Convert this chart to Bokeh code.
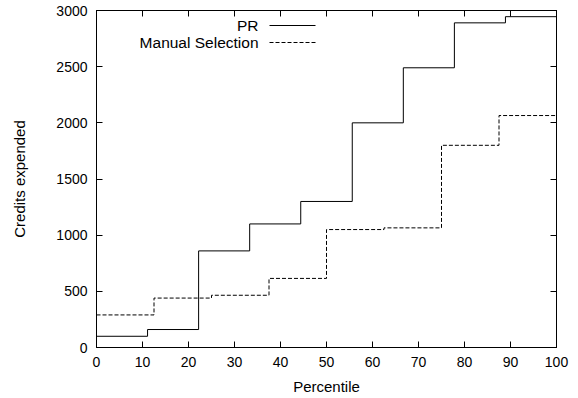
from bokeh.plotting import figure
from bokeh.models import (Range1d, FixedTicker, LinearAxis, Label, Arrow)
from bokeh.embed import file_html
from bokeh.resources import INLINE

# ---- data ----
pr_percentile = [0, 11.1, 22.2, 33.3, 44.4, 55.6, 66.7, 77.8, 88.9, 100]
pr_credits = [100, 160, 860, 1100, 1300, 2000, 2490, 2890, 2945, 2945]

manual_percentile = [0, 12.5, 25, 37.5, 50, 62.5, 75, 87.5, 100]
manual_credits = [290, 440, 465, 615, 1050, 1065, 1800, 2065, 2065]

x_ticks = [0, 10, 20, 30, 40, 50, 60, 70, 80, 90, 100]
y_ticks = [0, 500, 1000, 1500, 2000, 2500, 3000]

FONT = "Liberation Sans"
TICK_SIZE = "14px"
LABEL_SIZE = "15px"
LEGEND_SIZE = "15.5px"

p = figure(width=578, height=398, output_backend="svg", toolbar_location=None,
           x_range=Range1d(0, 100), y_range=Range1d(0, 3000),
           min_border_left=96, min_border_right=22, min_border_top=10,
           min_border_bottom=51)
p.background_fill_color = "white"
p.border_fill_color = "white"
p.outline_line_color = "black"
p.outline_line_width = 1
p.grid.visible = False

for ax in (p.xaxis[0], p.yaxis[0]):
    ax.major_tick_in = 6
    ax.major_tick_out = 0
    ax.minor_tick_in = 0
    ax.minor_tick_out = 0
    ax.axis_line_color = "black"
    ax.major_tick_line_color = "black"
    ax.major_label_text_font = FONT
    ax.major_label_text_font_size = TICK_SIZE
    ax.major_label_text_color = "black"
    ax.axis_label_text_font = FONT
    ax.axis_label_text_font_size = LABEL_SIZE
    ax.axis_label_text_font_style = "normal"
    ax.axis_label_text_color = "black"

p.xaxis[0].ticker = FixedTicker(ticks=x_ticks)
p.yaxis[0].ticker = FixedTicker(ticks=y_ticks)
p.xaxis[0].axis_label = "Percentile"
p.yaxis[0].axis_label = "Credits expended"
p.xaxis[0].major_label_standoff = 9
p.yaxis[0].major_label_standoff = 9
p.xaxis[0].axis_label_standoff = 8
p.yaxis[0].axis_label_standoff = 25

# mirrored ticks (top and right), no labels
top = LinearAxis(ticker=FixedTicker(ticks=x_ticks), major_tick_in=6, major_tick_out=0,
                 minor_tick_in=0, minor_tick_out=0,
                 major_label_overrides={t: "" for t in x_ticks},
                 axis_line_color="black", major_label_standoff=0)
right = LinearAxis(ticker=FixedTicker(ticks=y_ticks), major_tick_in=6, major_tick_out=0,
                   minor_tick_in=0, minor_tick_out=0,
                   major_label_overrides={t: "" for t in y_ticks},
                   axis_line_color="black", major_label_standoff=0)
p.add_layout(top, "above")
p.add_layout(right, "right")

p.step(pr_percentile, pr_credits, mode="after", line_color="black", line_width=1)
p.step(manual_percentile, manual_credits, mode="after", line_color="black",
       line_width=1, line_dash="4 2")

# legend (text left, sample right); screen units are relative to the frame
legend_items = [("PR", "solid"), ("Manual Selection", "4 2")]
for i, (name, dash) in enumerate(legend_items):
    ys = 322 - 17 * i
    p.add_layout(Label(x=162, y=ys, x_units="screen", y_units="screen", text=name,
                       text_align="right", text_baseline="middle",
                       text_font=FONT, text_font_size=LEGEND_SIZE, text_color="black"))
    p.add_layout(Arrow(x_start=173, y_start=ys, x_end=219, y_end=ys,
                       start_units="screen", end_units="screen", end=None,
                       line_color="black", line_width=1, line_dash=dash))

open("out.html", "w").write(file_html(p, INLINE))
